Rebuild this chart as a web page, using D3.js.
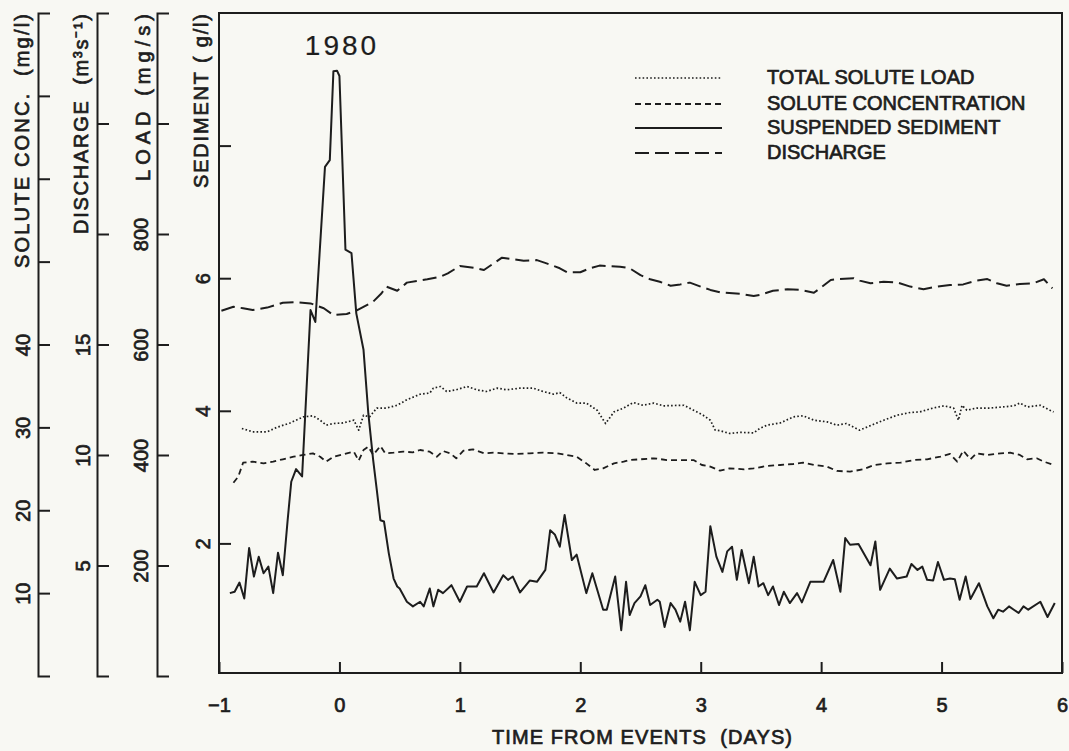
<!DOCTYPE html>
<html>
<head>
<meta charset="utf-8">
<script src="https://cdn.jsdelivr.net/npm/d3@7"></script>
<style>
  body { margin: 0; background: #f8f8f3; }
  svg { display: block; font-family: "Liberation Sans", Arial, sans-serif; }
  svg text { stroke: #1d1d1d; stroke-width: 0.7px; }
</style>
</head>
<body>
<div id="chart"></div>
<script>
// time from event (days), value in the series' own units
const discharge = [[-0.98,16.53],[-0.88,16.71],[-0.80,16.64],[-0.72,16.56],[-0.60,16.67],[-0.47,16.89],[-0.36,16.91],[-0.24,16.86],[-0.13,16.64],[-0.05,16.33],[0.06,16.38],[0.14,16.53],[0.28,16.94],[0.35,17.32],[0.39,17.62],[0.48,17.43],[0.56,17.80],[0.73,17.95],[0.84,18.07],[0.90,18.22],[1.00,18.55],[1.14,18.45],[1.20,18.37],[1.28,18.67],[1.35,18.93],[1.53,18.79],[1.64,18.82],[1.72,18.67],[1.83,18.45],[1.89,18.27],[2.00,18.27],[2.08,18.45],[2.16,18.57],[2.33,18.52],[2.41,18.45],[2.50,18.14],[2.58,17.95],[2.66,17.84],[2.75,17.66],[2.83,17.72],[2.91,17.80],[3.00,17.62],[3.08,17.47],[3.16,17.36],[3.33,17.29],[3.44,17.19],[3.49,17.24],[3.60,17.43],[3.72,17.50],[3.83,17.47],[3.94,17.34],[3.99,17.54],[4.08,17.92],[4.13,17.95],[4.27,18.00],[4.32,17.89],[4.41,17.77],[4.52,17.84],[4.63,17.81],[4.74,17.62],[4.85,17.50],[4.96,17.62],[5.07,17.69],[5.18,17.72],[5.29,17.89],[5.38,17.96],[5.46,17.77],[5.54,17.66],[5.65,17.74],[5.76,17.77],[5.85,17.95],[5.92,17.54]];

const soluteLoad = [[-0.81,448],[-0.72,442],[-0.60,442],[-0.52,450],[-0.41,458],[-0.30,469],[-0.22,471],[-0.16,463],[-0.11,454],[-0.05,457],[0.03,458],[0.12,463],[0.16,445],[0.20,472],[0.25,469],[0.31,485],[0.39,485],[0.48,490],[0.56,500],[0.67,510],[0.75,512],[0.78,521],[0.84,524],[0.89,515],[0.97,518],[1.06,524],[1.14,518],[1.22,515],[1.31,521],[1.39,518],[1.50,521],[1.61,521],[1.69,515],[1.78,510],[1.83,513],[1.89,503],[1.97,494],[2.05,494],[2.14,481],[2.21,457],[2.28,478],[2.36,485],[2.44,495],[2.52,490],[2.61,494],[2.69,489],[2.86,490],[2.94,481],[3.02,472],[3.08,463],[3.12,445],[3.16,444],[3.24,439],[3.33,441],[3.44,440],[3.49,448],[3.55,454],[3.66,458],[3.77,469],[3.85,471],[3.94,463],[4.05,460],[4.13,454],[4.21,457],[4.32,445],[4.44,456],[4.52,463],[4.63,472],[4.74,477],[4.82,478],[4.93,485],[5.02,489],[5.10,485],[5.14,463],[5.17,490],[5.21,481],[5.29,485],[5.40,485],[5.51,487],[5.60,489],[5.65,494],[5.71,487],[5.82,490],[5.90,481],[5.93,478]];

const soluteConc = [[-0.88,23.32],[-0.84,24.05],[-0.80,25.74],[-0.72,25.86],[-0.63,25.66],[-0.55,25.86],[-0.47,26.15],[-0.38,26.46],[-0.30,26.67],[-0.22,26.87],[-0.16,26.46],[-0.11,25.86],[-0.05,26.46],[0.03,26.75],[0.12,27.07],[0.16,25.98],[0.20,27.27],[0.24,27.67],[0.28,26.67],[0.34,27.75],[0.38,26.87],[0.45,26.95],[0.53,27.07],[0.61,26.99],[0.67,27.27],[0.75,27.07],[0.81,26.46],[0.86,27.15],[0.92,26.87],[0.97,26.27],[1.03,27.19],[1.11,27.35],[1.20,26.87],[1.28,26.95],[1.36,26.87],[1.47,26.79],[1.58,26.87],[1.69,26.95],[1.81,26.87],[1.89,26.67],[1.97,26.46],[2.05,25.66],[2.12,24.86],[2.19,25.06],[2.28,25.66],[2.36,25.86],[2.41,26.06],[2.50,26.15],[2.61,26.27],[2.72,26.06],[2.83,26.06],[2.94,26.06],[3.01,25.46],[3.08,25.26],[3.16,24.77],[3.24,25.06],[3.36,24.94],[3.44,25.06],[3.55,25.34],[3.66,25.46],[3.77,25.58],[3.85,25.74],[3.94,25.46],[4.05,25.26],[4.13,24.74],[4.24,24.66],[4.35,24.94],[4.44,25.46],[4.55,25.66],[4.66,25.74],[4.77,26.06],[4.88,26.15],[4.99,26.46],[5.07,26.79],[5.13,25.86],[5.18,27.19],[5.24,26.15],[5.29,26.87],[5.38,26.67],[5.49,26.87],[5.57,26.95],[5.65,26.67],[5.71,26.15],[5.79,26.27],[5.85,25.86],[5.93,25.46]];

const sediment = [[-0.91,1.25],[-0.87,1.27],[-0.83,1.41],[-0.79,1.17],[-0.75,1.93],[-0.71,1.50],[-0.67,1.80],[-0.63,1.55],[-0.59,1.65],[-0.55,1.25],[-0.51,1.86],[-0.47,1.52],[-0.43,2.35],[-0.40,2.93],[-0.36,3.12],[-0.31,3.01],[-0.24,5.52],[-0.20,5.34],[-0.12,7.68],[-0.08,7.78],[-0.05,9.12],[-0.02,9.13],[0.00,9.05],[0.05,6.43],[0.10,6.38],[0.14,5.47],[0.20,4.92],[0.24,3.96],[0.28,3.26],[0.31,2.81],[0.34,2.35],[0.37,2.33],[0.41,1.85],[0.45,1.47],[0.48,1.35],[0.50,1.32],[0.56,1.12],[0.61,1.05],[0.67,1.12],[0.70,1.05],[0.75,1.32],[0.78,1.05],[0.82,1.30],[0.86,1.25],[0.93,1.37],[1.00,1.12],[1.06,1.35],[1.14,1.35],[1.20,1.55],[1.28,1.26],[1.36,1.52],[1.40,1.45],[1.44,1.50],[1.50,1.26],[1.58,1.44],[1.64,1.42],[1.71,1.60],[1.75,2.20],[1.79,2.13],[1.83,1.95],[1.87,2.43],[1.93,1.75],[1.97,1.83],[2.05,1.25],[2.10,1.55],[2.19,1.00],[2.22,1.00],[2.29,1.50],[2.34,0.69],[2.38,1.42],[2.41,0.92],[2.45,1.10],[2.50,1.20],[2.54,1.37],[2.58,1.07],[2.64,1.15],[2.66,1.12],[2.70,0.74],[2.75,1.10],[2.79,1.00],[2.83,0.82],[2.87,1.12],[2.91,0.69],[2.95,1.42],[3.00,1.22],[3.04,1.27],[3.08,2.26],[3.13,1.80],[3.18,1.57],[3.22,1.88],[3.26,1.95],[3.30,1.45],[3.34,1.90],[3.40,1.40],[3.44,1.80],[3.48,1.35],[3.52,1.40],[3.56,1.22],[3.60,1.35],[3.65,1.07],[3.69,1.27],[3.74,1.10],[3.80,1.25],[3.84,1.11],[3.91,1.42],[4.02,1.42],[4.10,1.75],[4.16,1.27],[4.20,2.08],[4.24,1.98],[4.31,1.99],[4.41,1.67],[4.45,2.03],[4.49,1.30],[4.57,1.62],[4.63,1.47],[4.71,1.50],[4.75,1.69],[4.80,1.60],[4.84,1.65],[4.88,1.45],[4.93,1.44],[4.97,1.72],[5.02,1.45],[5.07,1.47],[5.11,1.46],[5.15,1.15],[5.20,1.50],[5.24,1.16],[5.31,1.40],[5.38,1.05],[5.43,0.87],[5.47,1.00],[5.51,0.97],[5.56,1.05],[5.60,1.00],[5.64,0.95],[5.68,1.05],[5.72,1.00],[5.82,1.12],[5.88,0.89],[5.94,1.10]];

// axes: tick values, labelled ticks
const xTicks = [-1, 0, 1, 2, 3, 4, 5, 6];
const concTicks = [10, 20, 30, 40, 50, 60, 70];
const concLabelled = [10, 20, 30, 40];
const dischargeTicks = [5, 10, 15, 20, 25];
const dischargeLabelled = [5, 10, 15];
const loadTicks = [200, 400, 600, 800, 1000];
const loadLabelled = [200, 400, 600, 800];
const sedimentTicks = [2, 4, 6, 8];
const sedimentLabelled = [2, 4, 6];

const legendNames = ["TOTAL SOLUTE LOAD", "SOLUTE CONCENTRATION", "SUSPENDED SEDIMENT", "DISCHARGE"];
const yearLabel = "1980";

function drawChart(containerId) {
  const width = 1069, height = 751;
  const ink = "#1d1d1d";
  const plot = { left: 219, right: 1062, top: 13, bottom: 673 };
  const yZero = 676, yTop = 13;

  d3.select(`#${containerId}`).html("");
  const svg = d3.select(`#${containerId}`)
    .append("svg")
      .attr("width", width)
      .attr("height", height);

  svg.append("rect").attr("width", width).attr("height", height).attr("fill", "#f8f8f3");

  const x = d3.scaleLinear().domain([-1, 6]).range([plot.left, plot.right]);
  const ySed = d3.scaleLinear().domain([0, 10]).range([yZero, yTop]);
  const yConc = d3.scaleLinear().domain([0, 80]).range([yZero, yTop]);
  const yQ = d3.scaleLinear().domain([0, 30]).range([yZero, yTop]);
  const yLoad = d3.scaleLinear().domain([0, 1200]).range([yZero, yTop]);

  // plot frame
  svg.append("rect")
    .attr("x", plot.left).attr("y", plot.top)
    .attr("width", plot.right - plot.left).attr("height", plot.bottom - plot.top)
    .attr("fill", "none").attr("stroke", ink).attr("stroke-width", 2);

  // vertical axes: ticks point right, labels rotated on the left
  function leftAxis(scale, xPos, ticks, labelled, outer, labelGap, title, titleX, titleLen) {
    const g = svg.append("g")
      .attr("transform", `translate(${xPos},0)`)
      .call(d3.axisLeft(scale)
        .tickValues(ticks)
        .tickSizeInner(-12)
        .tickSizeOuter(outer)
        .tickPadding(0)
        .tickFormat(d => labelled.includes(d) ? d : ""));
    g.attr("font-size", null).attr("font-family", null);
    g.select(".domain").attr("stroke", ink).attr("stroke-width", 2);
    g.selectAll(".tick line").attr("stroke", ink).attr("stroke-width", 2);
    g.selectAll(".tick text")
      .attr("x", 0).attr("dy", null)
      .attr("y", -labelGap)
      .attr("transform", "rotate(-90)")
      .attr("text-anchor", "middle")
      .style("font-size", "20px")
      .style("fill", ink);

    svg.append("text")
      .attr("transform", `translate(${titleX},${yTop + 1}) rotate(-90)`)
      .attr("text-anchor", "end")
      .attr("textLength", titleLen)
      .attr("lengthAdjust", "spacing")
      .style("white-space", "pre")
      .style("font-size", "20px")
      .style("fill", ink)
      .text(title);
    return g;
  }

  leftAxis(yConc, 38, concTicks, concLabelled, -12, 8, "SOLUTE CONC.  (mg/l)", 29, 254);
  leftAxis(yQ, 97, dischargeTicks, dischargeLabelled, -12, 7, "DISCHARGE  (m\u00B3s\u207B\u00B9)", 88, 220);
  leftAxis(yLoad, 157, loadTicks, loadLabelled, -12, 9, "LOAD (mg/s)", 150, 167);
  const gs = leftAxis(ySed, plot.left, sedimentTicks, sedimentLabelled, 0, 9, "SEDIMENT ( g/l)", 208, 174);
  gs.select(".domain").remove();

  // time axis
  const gx = svg.append("g")
    .attr("transform", `translate(0,${plot.bottom})`)
    .call(d3.axisBottom(x)
      .tickValues(xTicks)
      .tickSizeInner(-11)
      .tickSizeOuter(0)
      .tickPadding(25)
      .tickFormat(d => d < 0 ? "\u2212" + Math.abs(d) : String(d)));
  gx.attr("font-size", null).attr("font-family", null);
  gx.select(".domain").remove();
  gx.selectAll(".tick line").attr("stroke", ink).attr("stroke-width", 2);
  gx.selectAll(".tick text").style("font-size", "20px").style("fill", ink);

  svg.append("text")
    .attr("x", 642).attr("y", 744)
    .attr("text-anchor", "middle")
    .attr("textLength", 300)
    .attr("lengthAdjust", "spacing")
    .style("white-space", "pre")
    .style("font-size", "20px")
    .style("fill", ink)
    .text("TIME FROM EVENTS  (DAYS)");

  // series
  const styles = {
    "TOTAL SOLUTE LOAD":    { data: soluteLoad, y: yLoad, dash: "1.6,2.2", width: 1.7 },
    "SOLUTE CONCENTRATION": { data: soluteConc, y: yConc, dash: "6,4", width: 1.8 },
    "SUSPENDED SEDIMENT":   { data: sediment,   y: ySed,  dash: null,   width: 2 },
    "DISCHARGE":            { data: discharge,  y: yQ,    dash: "14,6", width: 2 }
  };

  legendNames.forEach(name => {
    const s = styles[name];
    svg.append("path")
      .datum(s.data)
      .attr("fill", "none")
      .attr("stroke", ink)
      .attr("stroke-width", s.width)
      .attr("stroke-dasharray", s.dash)
      .attr("stroke-linejoin", "round")
      .attr("d", d3.line()
        .x(d => x(d[0]))
        .y(d => s.y(d[1])));
  });

  // legend
  const legendRowY = [78, 104, 128, 153];
  const legend = svg.append("g");
  legendNames.forEach((name, i) => {
    const s = styles[name];
    legend.append("line")
      .attr("x1", 635).attr("x2", 722)
      .attr("y1", legendRowY[i]).attr("y2", legendRowY[i])
      .attr("stroke", ink)
      .attr("stroke-width", s.width)
      .attr("stroke-dasharray", s.dash);
    legend.append("text")
      .attr("x", 767)
      .attr("y", legendRowY[i] + 6)
      .style("font-size", "20px")
      .style("fill", ink)
      .text(name);
  });

  svg.append("text")
    .attr("x", 342).attr("y", 55)
    .attr("text-anchor", "middle")
    .style("font-size", "28px")
    .style("letter-spacing", "3px")
    .style("stroke-width", "0.2px")
    .style("fill", ink)
    .text(yearLabel);
}

document.addEventListener("DOMContentLoaded", function () {
  drawChart("chart");
});
</script>
</body>
</html>
